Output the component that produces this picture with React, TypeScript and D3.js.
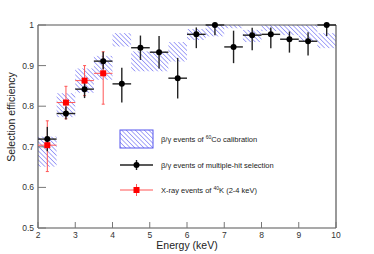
import React from "react";
import * as d3 from "d3";

// bin centres (keV), bin half-width 0.25
const energy = [2.25, 2.75, 3.25, 3.75, 4.25, 4.75, 5.25, 5.75, 6.25, 6.75, 7.25, 7.75, 8.25, 8.75, 9.25, 9.75];

// 60Co calibration band (low / high)
const coLow = [0.651, 0.773, 0.833, 0.865, 0.947, 0.886, 0.886, 0.91, 0.963, 0.972, 0.992, 0.958, 0.985, 0.975, 0.959, 0.943];
const coHigh = [0.725, 0.832, 0.893, 0.924, 0.98, 0.935, 0.935, 0.958, 0.99, 1.0, 1.0, 0.988, 1.0, 1.0, 1.0, 0.98];

// multiple-hit selection
const multiHit = [0.719, 0.782, 0.842, 0.911, 0.855, 0.944, 0.933, 0.869, 0.977, 1.0, 0.946, 0.975, 0.977, 0.965, 0.96, 1.0];
const multiHitUp = [0.03, 0.017, 0.021, 0.023, 0.04, 0.03, 0.04, 0.05, 0.017, 0, 0.04, 0.018, 0.017, 0.019, 0.022, 0];
const multiHitDown = [0.03, 0.015, 0.022, 0.02, 0.046, 0.03, 0.04, 0.05, 0.034, 0.025, 0.04, 0.037, 0.034, 0.033, 0.035, 0.027];

// 40K x-ray events
const xrayEnergy = [2.25, 2.75, 3.25, 3.75];
const xray = [0.704, 0.809, 0.863, 0.881];
const xrayUp = [0.06, 0.04, 0.037, 0.053];
const xrayDown = [0.065, 0.04, 0.037, 0.076];

const xTicks = [2, 3, 4, 5, 6, 7, 8, 9, 10];
const yTicks = [0.5, 0.6, 0.7, 0.8, 0.9, 1];

const W = 374, H = 254;
const left = 38, right = 336, top = 25, bottom = 228;
const font = "'Liberation Sans', Arial, sans-serif";

export default function App() {
  const x = d3.scaleLinear().domain([2, 10]).range([left, right]);
  const y = d3.scaleLinear().domain([0.5, 1]).range([bottom, top]);
  const hw = 0.25;
  const blue = "#7b7bf5";

  return (
    <svg width={W} height={H} style={{ position: "absolute", left: 0, top: 0, background: "#fff" }}>
      <defs>
        <pattern id="hatch" patternUnits="userSpaceOnUse" width={3.2} height={3.2} patternTransform="rotate(-45)">
          <line x1={0} y1={0} x2={0} y2={3.2} stroke={blue} strokeWidth={1.3} />
        </pattern>
      </defs>

      {/* 60Co bands */}
      {energy.map((e, i) => (
        <rect key={"co" + i} x={x(e - hw)} y={y(coHigh[i])} width={x(e + hw) - x(e - hw)}
          height={y(coLow[i]) - y(coHigh[i])} fill="url(#hatch)" />
      ))}

      {/* frame */}
      <g stroke="#555" strokeWidth={1.2} fill="none">
        <line x1={left} y1={top} x2={right} y2={top} />
        <line x1={right} y1={top} x2={right} y2={bottom} />
        <line x1={left} y1={top} x2={left} y2={bottom} />
        <line x1={left} y1={bottom} x2={right} y2={bottom} />
      </g>

      {/* ticks */}
      {yTicks.map((t) => (
        <g key={"y" + t}>
          <line x1={left} x2={left + 8} y1={y(t)} y2={y(t)} stroke="#777" strokeWidth={1} />
          <text x={left - 4} y={y(t) + 3} textAnchor="end" fontSize={8.5} fontFamily={font} fill="#333">{t === 1 ? "1" : t.toFixed(1)}</text>
        </g>
      ))}
      {xTicks.map((t) => (
        <g key={"x" + t}>
          <line x1={x(t)} x2={x(t)} y1={bottom} y2={bottom - 6} stroke="#777" strokeWidth={1} />
          <text x={x(t)} y={bottom + 10} textAnchor="middle" fontSize={8.5} fontFamily={font} fill="#333">{t}</text>
        </g>
      ))}

      {/* x-ray error bars */}
      {xrayEnergy.map((e, i) => (
        <g key={"xr" + i} stroke="#f55" strokeWidth={1}>
          <line x1={x(e - hw)} x2={x(e + hw)} y1={y(xray[i])} y2={y(xray[i])} />
          <line x1={x(e)} x2={x(e)} y1={y(xray[i] + xrayUp[i])} y2={y(xray[i] - xrayDown[i])} />
          <line x1={x(e) - 1.5} x2={x(e) + 1.5} y1={y(xray[i] + xrayUp[i])} y2={y(xray[i] + xrayUp[i])} />
          <line x1={x(e) - 1.5} x2={x(e) + 1.5} y1={y(xray[i] - xrayDown[i])} y2={y(xray[i] - xrayDown[i])} />
        </g>
      ))}

      {/* multiple-hit points */}
      {energy.map((e, i) => (
        <g key={"mh" + i}>
          <line x1={x(e - hw)} x2={x(e + hw)} y1={y(multiHit[i])} y2={y(multiHit[i])} stroke="#222" strokeWidth={1.4} />
          <line x1={x(e)} x2={x(e)} y1={y(multiHit[i] + multiHitUp[i])} y2={y(multiHit[i] - multiHitDown[i])} stroke="#222" strokeWidth={1.4} />
          <circle cx={x(e)} cy={y(multiHit[i])} r={3} fill="#000" />
        </g>
      ))}

      {/* x-ray markers */}
      {xrayEnergy.map((e, i) => (
        <rect key={"xm" + i} x={x(e) - 3} y={y(xray[i]) - 3} width={6} height={6} fill="#f00" />
      ))}

      {/* legend */}
      <g fontFamily={font} fontSize={7.5} fill="#222">
        <rect x={120} y={130} width={33} height={18} fill="url(#hatch)" stroke="#5555ee" strokeWidth={1} />
        <text x={161} y={142}>β/γ events of <tspan fontSize={5} dy={-3}>60</tspan><tspan dy={3}>Co calibration</tspan></text>

        <line x1={120} x2={153} y1={165} y2={165} stroke="#222" strokeWidth={1.4} />
        <line x1={136.5} x2={136.5} y1={160} y2={170} stroke="#222" strokeWidth={1.4} />
        <circle cx={136.5} cy={165} r={3} fill="#000" />
        <text x={161} y={168}>β/γ events of multiple-hit selection</text>

        <line x1={120} x2={153} y1={190} y2={190} stroke="#f55" strokeWidth={1} />
        <line x1={136.5} x2={136.5} y1={184} y2={196} stroke="#f55" strokeWidth={1} />
        <rect x={133.5} y={187} width={6} height={6} fill="#f00" />
        <text x={161} y={193}>X-ray events of <tspan fontSize={5} dy={-3}>40</tspan><tspan dy={3}>K (2-4 keV)</tspan></text>
      </g>

      {/* axis titles */}
      <text x={(left + right) / 2} y={249} textAnchor="middle" fontSize={10.5} fontFamily={font} fill="#222">Energy (keV)</text>
      <text transform={`translate(14.5,117) rotate(-90)`} textAnchor="middle" fontSize={10.5} fontFamily={font} fill="#222">Selection efficiency</text>
    </svg>
  );
}
